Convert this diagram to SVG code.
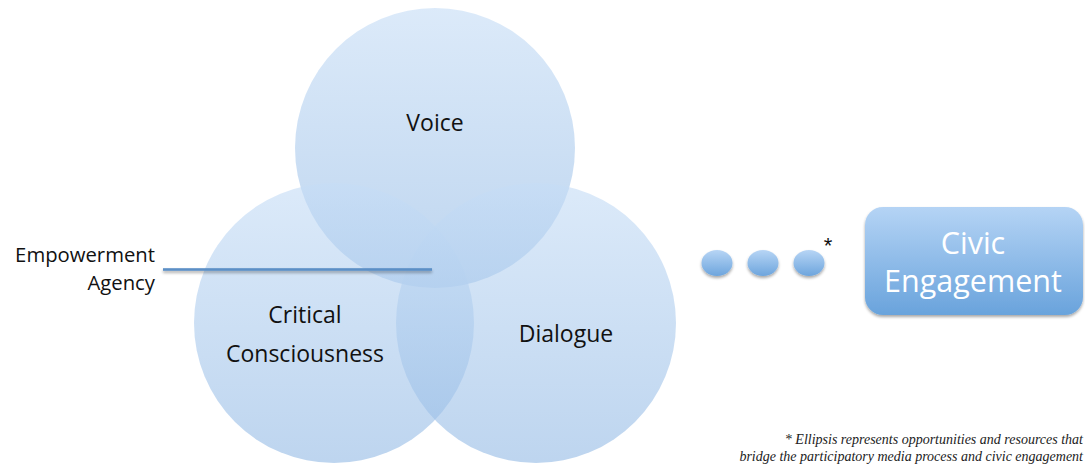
<svg xmlns="http://www.w3.org/2000/svg" width="1085" height="465" viewBox="0 0 1085 465">
  <defs>
    <linearGradient id="circleFill" x1="0" y1="0" x2="0" y2="1">
      <stop offset="0" stop-color="#c6ddf6"/>
      <stop offset="1" stop-color="#95bbe5"/>
    </linearGradient>
    <linearGradient id="dotFill" x1="0" y1="0" x2="0" y2="1">
      <stop offset="0" stop-color="#b7d5f5"/>
      <stop offset="1" stop-color="#6da5dd"/>
    </linearGradient>
    <linearGradient id="boxFill" x1="0" y1="0" x2="0" y2="1">
      <stop offset="0" stop-color="#b5d4f5"/>
      <stop offset="1" stop-color="#69a3dc"/>
    </linearGradient>
    <filter id="softShadow" filterUnits="userSpaceOnUse" x="0" y="0" width="1085" height="465">
      <feGaussianBlur in="SourceAlpha" stdDeviation="1.5"/>
      <feOffset dy="1.5"/>
      <feComponentTransfer><feFuncA type="linear" slope="0.35"/></feComponentTransfer>
      <feMerge><feMergeNode/><feMergeNode in="SourceGraphic"/></feMerge>
    </filter>
  </defs>
  <style>
    .circle { fill: url(#circleFill); fill-opacity: 0.62; }
    .label { font-family: "Open Sans", "Liberation Sans", sans-serif; font-size: 23px; fill: #111; text-anchor: middle; }
    .side { font-family: "Open Sans", "Liberation Sans", sans-serif; font-size: 20.3px; fill: #111; text-anchor: end; }
    .box-text { font-family: "Open Sans", "Liberation Sans", sans-serif; font-size: 30.5px; fill: #ffffff; text-anchor: middle; }
    .note { font-family: "Liberation Serif", "DejaVu Serif", serif; font-style: italic; font-size: 14px; fill: #222; text-anchor: end; }
    .dot { fill: url(#dotFill); }
  </style>

  <rect width="1085" height="465" fill="#ffffff"/>

  <!-- three overlapping circles -->
  <g id="voice">
    <circle class="circle" cx="435" cy="148" r="140"/>
    <text class="label" x="435" y="131">Voice</text>
  </g>
  <g id="critical-consciousness">
    <circle class="circle" cx="334" cy="323" r="140"/>
    <text class="label" x="305" y="323">Critical</text>
    <text class="label" x="305" y="362">Consciousness</text>
  </g>
  <g id="dialogue">
    <circle class="circle" cx="536" cy="323" r="140"/>
    <text class="label" x="566" y="342">Dialogue</text>
  </g>

  <!-- pointer from the side label into the shared centre -->
  <g id="connectors">
    <rect x="163" y="268.2" width="269" height="2.6" fill="#5b8fc6" filter="url(#softShadow)"/>
  </g>

  <g id="empowerment-agency">
    <text class="side" x="155" y="262">Empowerment</text>
    <text class="side" x="155" y="290">Agency</text>
  </g>

  <!-- ellipsis dots -->
  <g id="ellipsis" filter="url(#softShadow)">
    <ellipse class="dot" cx="717" cy="263" rx="15.5" ry="13"/>
    <ellipse class="dot" cx="763" cy="263" rx="15.5" ry="13"/>
    <ellipse class="dot" cx="809" cy="263" rx="15.5" ry="13"/>
  </g>
  <text id="asterisk" x="828" y="253" font-family="Liberation Sans, sans-serif" font-size="22" fill="#111" text-anchor="middle">*</text>

  <g id="civic-engagement">
    <rect x="865" y="207" width="218" height="108" rx="18" ry="18" fill="url(#boxFill)" filter="url(#softShadow)"/>
    <text class="box-text" x="973" y="254">Civic</text>
    <text class="box-text" x="973" y="292">Engagement</text>
  </g>

  <g id="footnote">
    <text class="note" x="1083" y="444">* Ellipsis represents opportunities and resources that</text>
    <text class="note" x="1083" y="461">bridge the participatory media process and civic engagement</text>
  </g>
</svg>
